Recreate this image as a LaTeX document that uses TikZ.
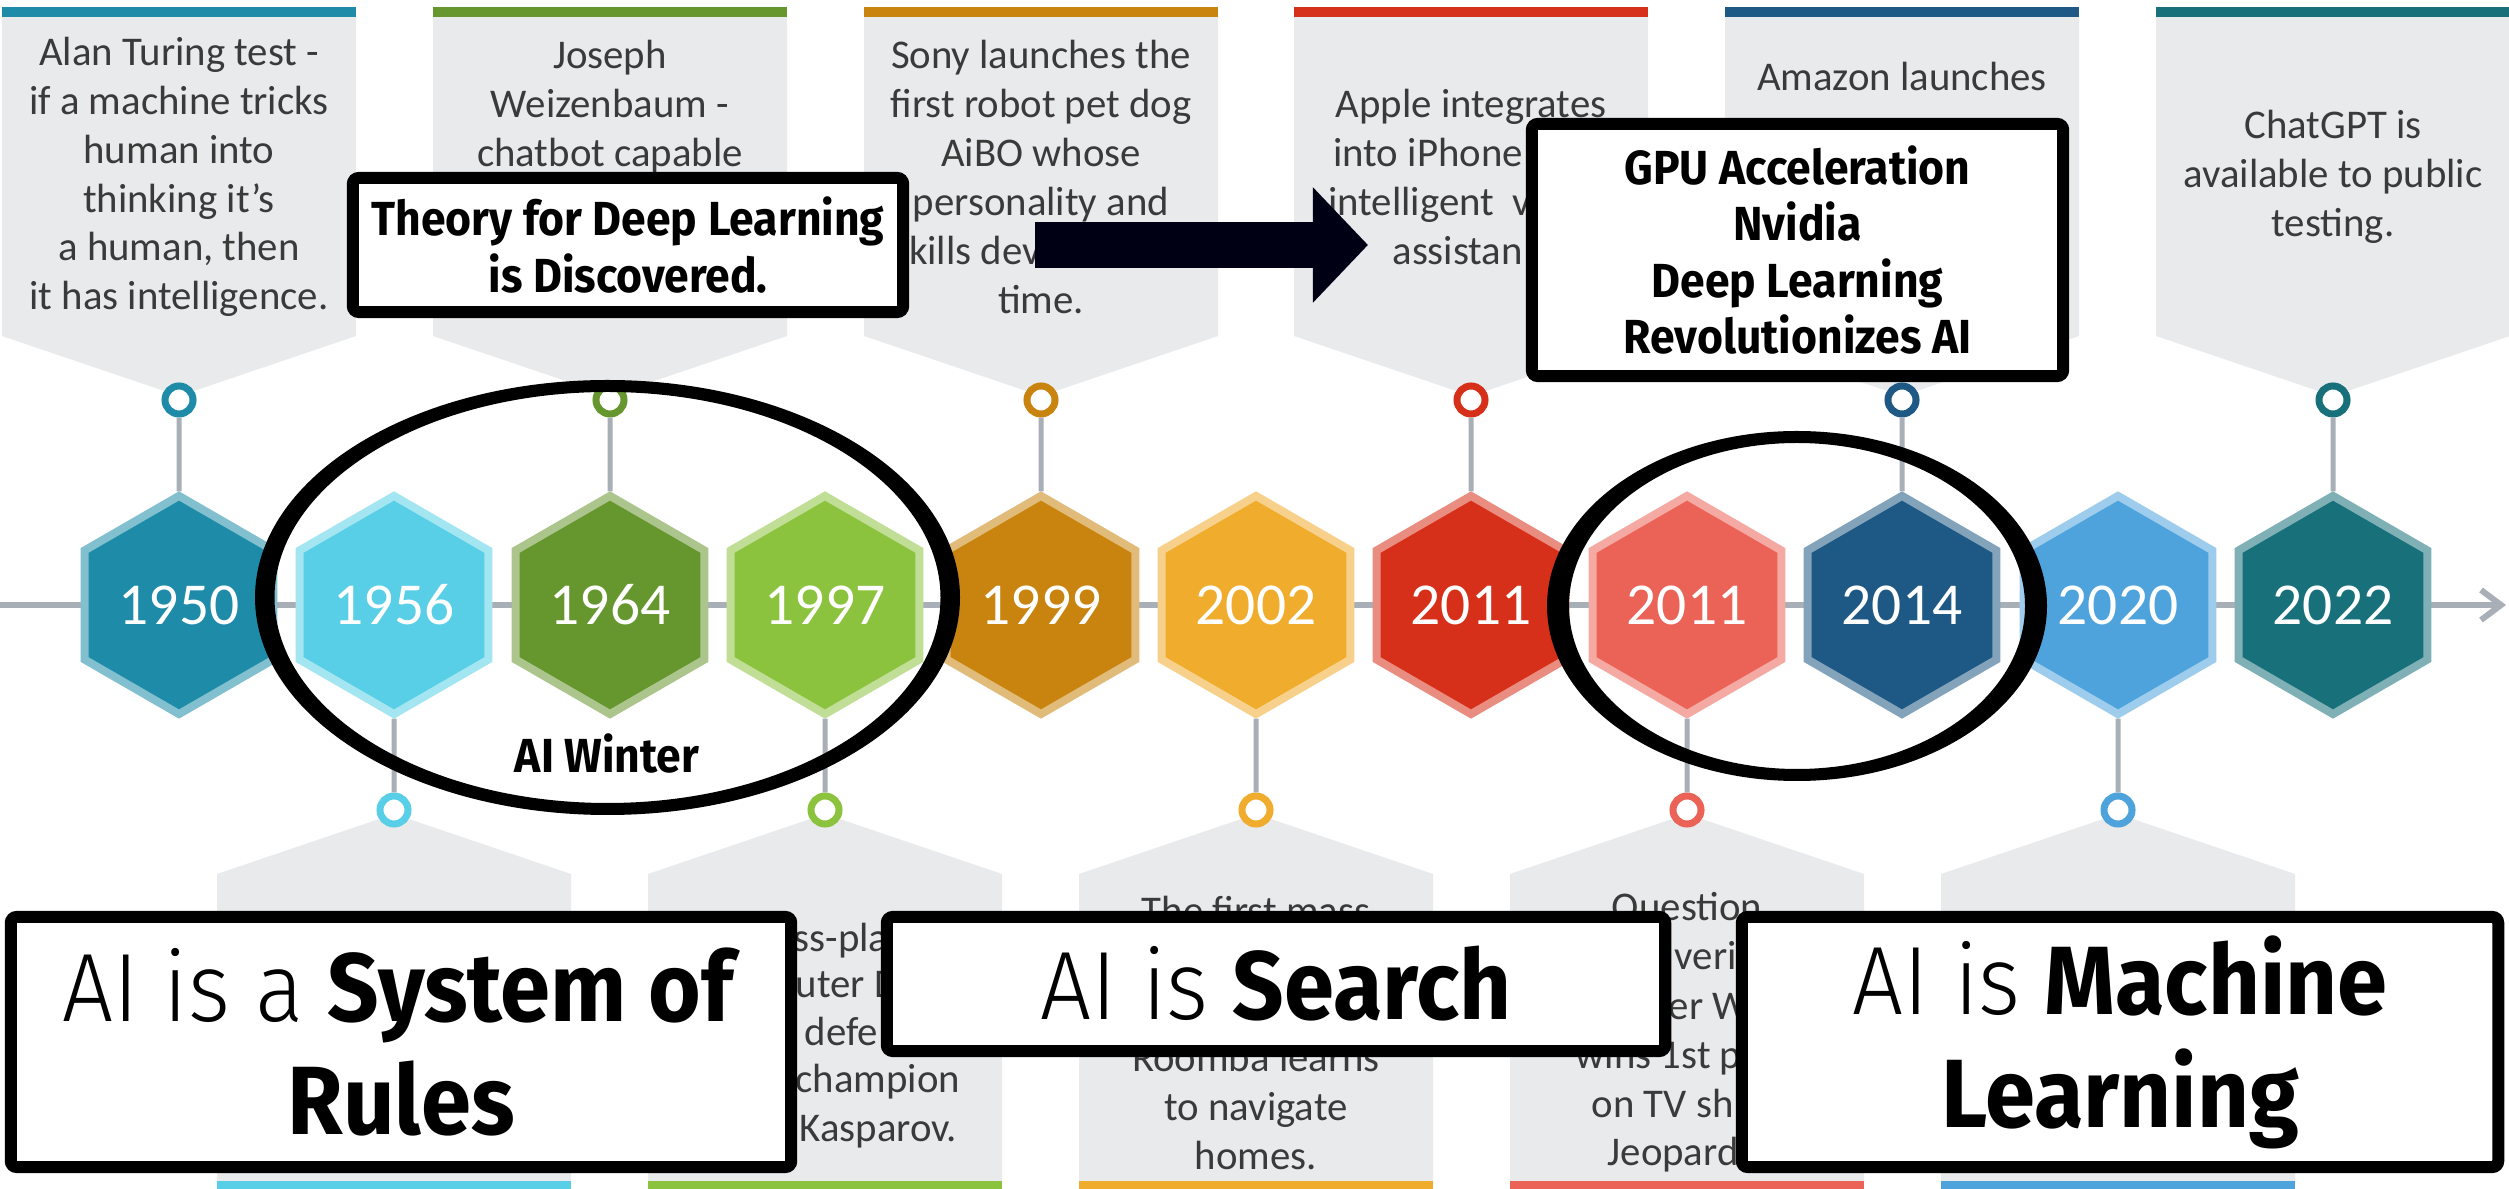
\documentclass[tikz,border=0pt]{standalone}
\usepackage{fontspec}
\setmainfont{Carlito}
\newfontfamily\boxfont[FakeStretch=0.93]{Fira Sans}
\newfontfamily\boxlight[FakeStretch=0.93]{Fira Sans Light}
\usepackage{tikz}
\usetikzlibrary{arrows.meta}
\usetikzlibrary{shapes.geometric}
\definecolor{c1950}{HTML}{1E8CA8}
\definecolor{c1956}{HTML}{58CFE6}
\definecolor{c1964}{HTML}{66962E}
\definecolor{c1997}{HTML}{8CC33E}
\definecolor{c1999}{HTML}{C8840E}
\definecolor{c2002}{HTML}{F0AC2C}
\definecolor{c2011}{HTML}{D7301A}
\definecolor{c2011b}{HTML}{EB6357}
\definecolor{c2014}{HTML}{1E5884}
\definecolor{c2020}{HTML}{4EA3DC}
\definecolor{c2022}{HTML}{17707A}
\definecolor{cardgray}{HTML}{E9EAEC}
\definecolor{stemgray}{HTML}{A9AFB6}
\definecolor{textgray}{HTML}{3A3A3A}
\newcommand{\cardfont}{\fontsize{11.6}{13.9}\selectfont}
\newcommand{\yearfont}{\fontsize{16.9}{19}\selectfont}
\newcommand{\headfont}{\boxfont\bfseries\fontsize{13.6}{16}\selectfont}
\newcommand{\bigfont}{\boxfont\fontsize{27.6}{32.1}\selectfont}
\newcommand{\topcard}[2]{%
  \fill[cardgray] ({#1-177},17) -- ({#1+177},17) -- ({#1+177},336) -- (#1,396) -- ({#1-177},336) -- cycle;
  \fill[#2] ({#1-177},7) rectangle ({#1+177},17);
}
\newcommand{\bottomcard}[2]{%
  \fill[cardgray] (#1,814) -- ({#1+177},874) -- ({#1+177},1181) -- ({#1-177},1181) -- ({#1-177},874) -- cycle;
  \fill[#2] ({#1-177},1181) rectangle ({#1+177},1191);
}
\tikzstyle{hexa}=[regular polygon, regular polygon sides=6, shape border rotate=30, minimum size=2.18cm, inner sep=0, line width=0.08cm, text=white, font=\yearfont]
\tikzstyle{ring}=[circle, fill=white, line width=0.07cm, minimum size=0.28cm, inner sep=0]
\tikzstyle{stem}=[draw=stemgray, line width=0.05cm]
\tikzstyle{cardtext}=[font=\cardfont, text=textgray, align=center, inner sep=0]
\tikzstyle{frag}=[font=\cardfont, text=textgray, inner sep=0, anchor=base west]
\tikzstyle{overlaybox}=[draw=black, line width=0.12cm, fill=white, rounded corners=0.06cm, inner sep=0, align=center]
\tikzstyle{timeline}=[draw=stemgray, line width=0.06cm, -{Straight Barb[length=0.2cm, width=0.3cm]}]
\tikzstyle{blockarrow}=[draw=black!92!blue, line width=0.46cm, -{Triangle[length=0.55cm, width=1.12cm]}]

\begin{document}
\begin{tikzpicture}[x=0.01cm, y=-0.01cm]
    \useasboundingbox (0,0) rectangle (2509,1189);
    \fill[white] (0,0) rectangle (2509,1189);
    \begin{scope}
        \topcard{179}{c1950}
        \topcard{610}{c1964}
        \topcard{1041}{c1999}
        \topcard{1471}{c2011}
        \topcard{1902}{c2014}
        \topcard{2333}{c2022}
        \bottomcard{394}{c1956}
        \bottomcard{825}{c1997}
        \bottomcard{1256}{c2002}
        \bottomcard{1687}{c2011b}
        \bottomcard{2118}{c2020}
    \end{scope}
    \begin{scope}
        \node[cardtext] (t1950) at (179,177) {Alan Turing test -\\if a machine tricks\\human into\\thinking it\char39{}s\\a human, then\\it has intelligence.};
        \node[cardtext] (t1964) at (610,177) {Joseph\\Weizenbaum -\\chatbot capable\\~\\~\\~};
        \node[cardtext] (t1999) at (1041,177) {Sony launches the\\first robot pet dog\\AiBO whose\\personality and\\\makebox[7.25em][l]{skills dev}\\time.};
        \node[cardtext] (t2011) at (1471,177) {Apple integrates\\\makebox[6.75em][l]{into iPhone}\\\makebox[7em][l]{intelligent\ \ vi}\\\makebox[3.85em][l]{assistan}};
        \node[cardtext] (t2014) at (1902,174) {Amazon launches\\~\\~\\~\\~};
        \node[cardtext] (t2022) at (2333,177) {ChatGPT is\\available to public\\testing.};
        \node[frag] (b1997a) at (793,952) {ss-pla};
        \node[frag] (b1997b) at (795,998) {uter D};
        \node[frag] (b1997c) at (804,1045) {defe};
        \node[frag] (b1997d) at (795,1093) {champion};
        \node[frag] (b1997e) at (799,1141) {Kasparov.};
        \node[cardtext] (t2002) at (1256,1033) {The first mass\\~\\~\\Roomba learns\\to navigate\\homes.};
        \node[cardtext, anchor=base] (b2011a) at (1687,921) {Question};
        \node[frag] (b2011b) at (1674,970) {veri};
        \node[frag] (b2011c) at (1668,1019) {er W};
        \node[frag] (b2011d) at (1575,1068) {wins 1st p};
        \node[frag] (b2011e) at (1591,1117) {on TV sh};
        \node[frag] (b2011f) at (1607,1165) {Jeopard};
    \end{scope}
    \begin{scope}
        \coordinate (lineS) at (0,605);
        \coordinate (lineE) at (2506,605);
        \draw[timeline] (lineS) -- (lineE);
        \node[hexa, fill=c1950, draw=c1950!55!white] (h1950) at (179,605) {1950};
        \node[hexa, fill=c1956, draw=c1956!55!white] (h1956) at (394,605) {1956};
        \node[hexa, fill=c1964, draw=c1964!55!white] (h1964) at (610,605) {1964};
        \node[hexa, fill=c1997, draw=c1997!55!white] (h1997) at (825,605) {1997};
        \node[hexa, fill=c1999, draw=c1999!55!white] (h1999) at (1041,605) {1999};
        \node[hexa, fill=c2002, draw=c2002!55!white] (h2002) at (1256,605) {2002};
        \node[hexa, fill=c2011, draw=c2011!55!white] (h2011) at (1471,605) {2011};
        \node[hexa, fill=c2011b, draw=c2011b!55!white] (h2011b) at (1687,605) {2011};
        \node[hexa, fill=c2014, draw=c2014!55!white] (h2014) at (1902,605) {2014};
        \node[hexa, fill=c2020, draw=c2020!55!white] (h2020) at (2118,605) {2020};
        \node[hexa, fill=c2022, draw=c2022!55!white] (h2022) at (2333,605) {2022};
        \node[ring, draw=c1950] (r1950) at (179,400) {};
        \node[ring, draw=c1956] (r1956) at (394,810) {};
        \node[ring, draw=c1964] (r1964) at (610,400) {};
        \node[ring, draw=c1997] (r1997) at (825,810) {};
        \node[ring, draw=c1999] (r1999) at (1041,400) {};
        \node[ring, draw=c2002] (r2002) at (1256,810) {};
        \node[ring, draw=c2011] (r2011) at (1471,400) {};
        \node[ring, draw=c2011b] (r2011b) at (1687,810) {};
        \node[ring, draw=c2014] (r2014) at (1902,400) {};
        \node[ring, draw=c2020] (r2020) at (2118,810) {};
        \node[ring, draw=c2022] (r2022) at (2333,400) {};
        \draw[stem] (r1950) -- (h1950);
        \draw[stem] (h1956) -- (r1956);
        \draw[stem] (r1964) -- (h1964);
        \draw[stem] (h1997) -- (r1997);
        \draw[stem] (r1999) -- (h1999);
        \draw[stem] (h2002) -- (r2002);
        \draw[stem] (r2011) -- (h2011);
        \draw[stem] (h2011b) -- (r2011b);
        \draw[stem] (r2014) -- (h2014);
        \draw[stem] (h2020) -- (r2020);
        \draw[stem] (r2022) -- (h2022);
    \end{scope}
    \begin{scope}
        \fill[black, even odd rule] (607.5,597.5) ellipse [x radius=352.5, y radius=217.5] (607.5,597.5) ellipse [x radius=333, y radius=205.5];
        \fill[black, even odd rule] (1797,606) ellipse [x radius=250, y radius=175] (1797,606) ellipse [x radius=228, y radius=163];
        \node[font=\boxfont\bfseries\fontsize{13.6}{15}\selectfont] (winter) at (607,754) {AI Winter};
        \coordinate (arrtail) at (1035,245);
        \coordinate (arrtip) at (1368,245);
        \draw[blockarrow] (arrtail) -- (arrtip);
        \node[overlaybox, minimum width=5.5cm, minimum height=1.34cm, font=\headfont] (theory) at (628,245) {Theory for Deep Learning\\is Discovered.};
        \node[overlaybox, minimum width=5.31cm, minimum height=2.52cm, font=\headfont] (gpu) at (1797.5,250) {GPU Acceleration\\Nvidia\\Deep Learning\\Revolutionizes AI};
        \node[overlaybox, minimum width=7.8cm, minimum height=2.5cm, font=\bigfont] (rules) at (401,1042) {{\boxlight AI is a} \textbf{System of}\\\textbf{Rules}};
        \node[overlaybox, minimum width=7.78cm, minimum height=1.34cm, font=\bigfont] (search) at (1276,984) {{\boxlight AI is} \textbf{Search}};
        \node[overlaybox, minimum width=7.56cm, minimum height=2.5cm, font=\bigfont] (learning) at (2120,1042) {{\boxlight AI is} \textbf{Machine}\\\textbf{Learning}};
    \end{scope}
\end{tikzpicture}
\end{document}
